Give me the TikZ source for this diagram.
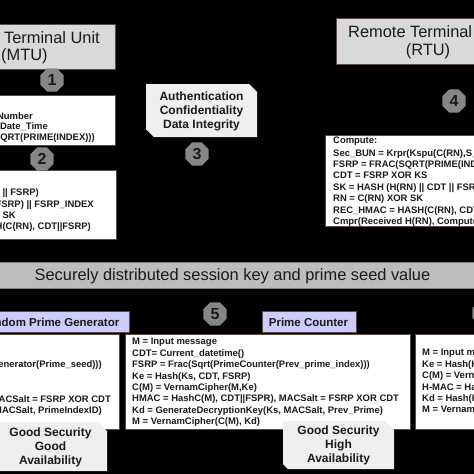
\documentclass[tikz,border=0pt]{standalone}
\usepackage{fontspec}
\setmainfont{Liberation Sans}
\usetikzlibrary{shapes.geometric}
\definecolor{boxgray}{HTML}{D9D9D9}
\definecolor{bandgray}{HTML}{BDBDBD}
\definecolor{lav}{HTML}{CCCCFF}
\definecolor{notegray}{HTML}{EFEFEF}
\definecolor{ink}{HTML}{1A1A1A}
\definecolor{edge}{HTML}{5A4A4A}
\tikzset{
 x=1pt,y=-1pt,
 panel/.style={fill=white,draw=edge,line width=.6pt},
 unit/.style={fill=boxgray,draw=edge,line width=.6pt},
 hexmark/.style={regular polygon,regular polygon sides=8,fill=gray!95,draw=none,minimum size=25pt,inner sep=0pt,text=ink,font=\fontsize{16}{16}\selectfont\bfseries},
 code/.style={inner sep=0pt,text=ink,font=\fontsize{9.45}{11.45}\selectfont\bfseries,align=left},
 codeL/.style={code,anchor=west},
 codeR/.style={code,anchor=east},
 unitText/.style={inner sep=0pt,text=ink,align=center,font=\fontsize{16.4}{20}\selectfont},
 headText/.style={inner sep=0pt,text=ink,font=\fontsize{11.5}{13}\selectfont\bfseries},
 noteText/.style={inner sep=0pt,text=ink,align=center,font=\fontsize{12}{14}\selectfont\bfseries},
}
\begin{document}
\begin{tikzpicture}
\useasboundingbox[fill=black] (0,0) rectangle (474,474);
% units
\draw[unit] (-5,24) rectangle (115,69);
\node[unitText,anchor=east] (mtua) at (100,38) {Terminal Unit};
\node[unitText,anchor=west] (mtub) at (1,56) {(MTU)};
\draw[unit] (336,18) rectangle (480,64);
\node[unitText,anchor=west] (rtua) at (348,32) {Remote Terminal Unit};
\node[unitText] (rtub) at (428,51) {(RTU)};
% upper panels
\draw[panel] (-5,95) rectangle (115,145);
\node[codeR] (la) at (33,116) {Random Number};
\node[codeR] (lb) at (48,127) {Current\_Date\_Time};
\node[codeR] (lc) at (95,138.5) {FSRP = FRAC(SQRT(PRIME(INDEX)))};
\draw[panel] (-5,170) rectangle (116,239);
\node[codeR] (ld) at (39,193) {SK = HASH(H(RN) || CDT || FSRP)};
\node[codeR] (le) at (94,205) {(RN, FSRP) || FSRP\_INDEX};
\node[codeR] (lf) at (16,216) {C(RN) = RN XOR SK};
\node[codeR] (lg) at (91,227.5) {HMAC = HASH(C(RN), CDT||FSRP)};
% note 3
\draw[fill=notegray,draw=none] (146,84) -- (249,84) -- (257,92) -- (257,137) -- (154,137) -- (146,129) -- cycle;
\node[noteText] (sec) at (201.5,111.5) {Authentication\\Confidentiality\\Data Integrity};
% RTU panel
\draw[panel] (325,135) rectangle (480,226.5);
\node[codeL,anchor=north west] (rtucode) at (333,136.8) {Compute:\\[1pt]Sec\_BUN = Krpr(Kspu(C(RN),S\_BUN))\\FSRP = FRAC(SQRT(PRIME(INDEX)))\\CDT = FSRP XOR KS\\SK = HASH (H(RN) || CDT || FSRP)\\RN = C(RN) XOR SK\\REC\_HMAC = HASH(C(RN), CDT||FSRP)\\Cmpr(Received H(RN), Computed H(RN))};
% band
\draw[fill=bandgray,draw=gray] (-5,262) rectangle (480,288);
\node[inner sep=0pt,text=ink,font=\fontsize{16.4}{18}\selectfont] (band) at (232.5,276) {Securely distributed session key and prime seed value};
% headers
\draw[fill=lav,draw=edge,line width=.6pt] (-5,311) rectangle (129,332);
\node[headText,anchor=east] (hrand) at (119.5,322) {Random Prime Generator};
\draw[fill=lav,draw=edge,line width=.6pt] (262,311) rectangle (356,332);
\node[headText] (hprime) at (308.5,322) {Prime Counter};
% lower panels
\draw[panel] (-5,334) rectangle (119,429);
\node[codeR] (pa) at (102,365) {Generator(Prime\_seed)))};
\node[codeR] (pb) at (111,399) {MACSalt = FSRP XOR CDT};
\node[codeR] (pc) at (102,411) {MACSalt, PrimeIndexID)};
\draw[panel] (125,334) rectangle (410.5,429);
\node[codeL,anchor=north west] (mid) at (132,338) {M = Input message\\CDT= Current\_datetime()\\FSRP = Frac(Sqrt(PrimeCounter(Prev\_prime\_index)))\\Ke = Hash(Ks, CDT, FSRP)\\C(M) = VernamCipher(M,Ke)\\HMAC = HashC(M), CDT||FSPR), MACSalt = FSRP XOR CDT\\Kd = GenerateDecryptionKey(Ks, MACSalt, Prev\_Prime)\\M = VernamCipher(C(M), Kd)};
\draw[panel] (415,334) rectangle (480,429);
\node[codeL,anchor=north west] (right) at (422,349) {M = Input message\\Ke = Hash(Ks, CDT)\\C(M) = VernamCipher\\H-MAC = Hash(C(M))\\Kd = Hash(Ks, CDT)\\M = VernamCipher};
% notes
\draw[fill=notegray,draw=none] (-5,422) -- (98,422) -- (107,431) -- (107,471) -- (-5,471) -- cycle;
\node[noteText] (ngood) at (50.5,447) {Good Security\\Good\\Availability};
\draw[fill=notegray,draw=none] (283,421) -- (385,421) -- (394,430) -- (394,469) -- (288,469) -- (283,464) -- cycle;
\node[noteText] (nhigh) at (338.5,445) {Good Security\\High\\Availability};
% markers
\node[hexmark] (m1) at (52,80) {1};
\node[hexmark] (m2) at (42,159) {2};
\node[hexmark] (m3) at (197,154) {3};
\node[hexmark] (m4) at (454,101) {4};
\node[hexmark] (m5) at (215,314) {5};
\node[hexmark] (m6) at (484,313) {};
\end{tikzpicture}
\end{document}
